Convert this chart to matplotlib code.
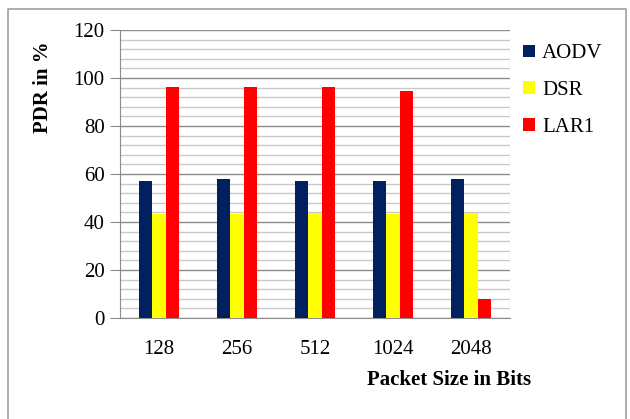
import numpy as np
import matplotlib.pyplot as plt
from matplotlib.ticker import MultipleLocator

# PDR values per packet size
sizes = ["128", "256", "512", "1024", "2048"]
aodv = [57.2, 57.8, 57.2, 57.2, 57.8]
dsr = [43.2, 43.2, 43.8, 43.2, 43.8]
lar1 = [96.1, 96.1, 96.1, 94.6, 7.9]

plt.rcParams['font.family'] = ['Liberation Serif', 'DejaVu Serif']

fig = plt.figure(figsize=(6.3, 4.19), dpi=100)
ax = fig.add_axes([120 / 630, 1 - 318 / 419, 390 / 630, 288 / 419])

x = np.arange(len(sizes))
w = 0.167
ax.bar(x - w, aodv, w, color="#002060", label="AODV", zorder=3)
ax.bar(x, dsr, w, color="#ffff00", label="DSR", zorder=3)
ax.bar(x + w, lar1, w, color="#ff0000", label="LAR1", zorder=3)

ax.set_xlim(-0.5, 4.5)
ax.set_ylim(0, 120)
ax.yaxis.set_major_locator(MultipleLocator(20))
ax.yaxis.set_minor_locator(MultipleLocator(4))
ax.grid(axis="y", which="major", color="#8c8c8c", lw=1, zorder=0)
ax.grid(axis="y", which="minor", color="#c8c8c8", lw=1, zorder=0)
ax.set_xticks(x)
ax.set_xticklabels(sizes)
ax.tick_params(axis="x", length=0, pad=16, labelsize=15)
ax.tick_params(axis="y", which="major", length=7, color="#8c8c8c", labelsize=15, pad=4)
ax.tick_params(axis="y", which="minor", length=0)
for s in ["top", "right"]:
    ax.spines[s].set_visible(False)
for s in ["left", "bottom"]:
    ax.spines[s].set_color("#8c8c8c")

fig.text(43 / 630, 1 - 87 / 419, "PDR in %", rotation=90, fontsize=15,
         fontweight="bold", ha="center", va="center")
fig.text(449 / 630, 1 - 380 / 419, "Packet Size in Bits", fontsize=15,
         fontweight="bold", ha="center", va="center")

ax.legend(loc="upper left", bbox_to_anchor=(515 / 630, 1 - 36 / 419),
          bbox_transform=fig.transFigure, frameon=False, fontsize=15,
          handlelength=0.55, handleheight=0.55, handletextpad=0.35,
          labelspacing=0.85, borderaxespad=0)

# outer chart frame
fig.add_artist(plt.Line2D([8 / 630, 8 / 630, 626 / 630, 626 / 630],
                          [0, 1 - 9 / 419, 1 - 9 / 419, 0],
                          transform=fig.transFigure, color="#a0a0a0", lw=1.2))

fig.savefig("out.png", dpi=100)
